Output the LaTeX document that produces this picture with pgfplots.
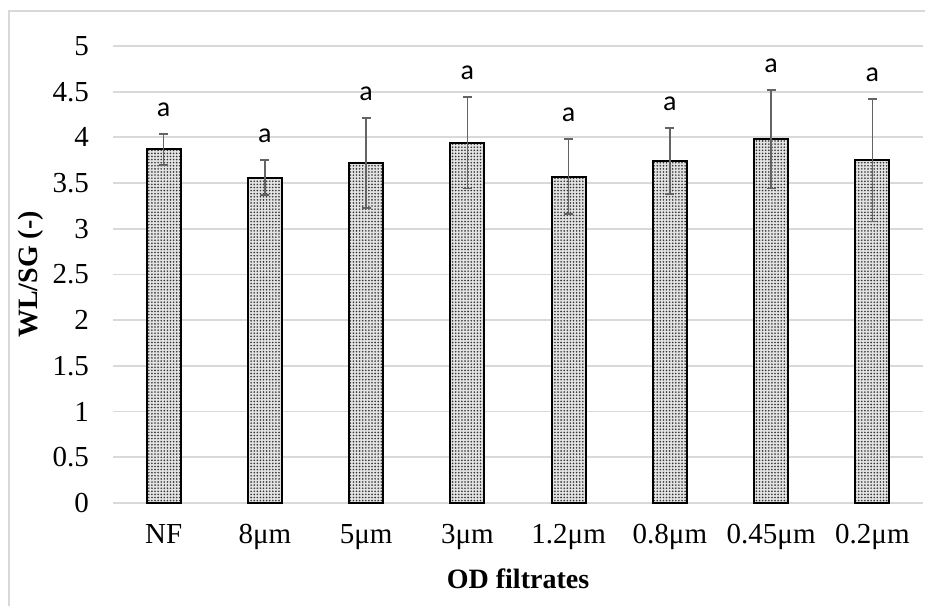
\documentclass[border=0pt]{standalone}
\usepackage{pgfplots}
\pgfplotsset{compat=1.18}
\usetikzlibrary{patterns}
\usepackage{fontspec}
\setmainfont{Liberation Serif}
\newfontfamily\calibri{Carlito}

% fine dot pattern like the Excel "5%" fill
\pgfdeclarepatternformonly{finedots}{\pgfqpoint{-0.5pt}{-0.5pt}}{\pgfqpoint{0.5pt}{0.5pt}}{\pgfqpoint{1.55pt}{1.55pt}}{%
  \pgfpathcircle{\pgfqpoint{0pt}{0pt}}{0.45pt}\pgfusepath{fill}}

\definecolor{gridgray}{RGB}{217,217,217}
\definecolor{errgray}{RGB}{100,100,100}

\begin{document}
\begin{tikzpicture}
  \begin{axis}[
      scale only axis,
      width=405pt, height=228.5pt,
      xmin=-0.5, xmax=7.5,
      ymin=0, ymax=5,
      xtick={0,1,2,3,4,5,6,7},
      xticklabels={NF, 8μm, 5μm, 3μm, 1.2μm, 0.8μm, 0.45μm, 0.2μm},
      ytick={0,0.5,1,1.5,2,2.5,3,3.5,4,4.5,5},
      ymajorgrids,
      grid style={gridgray, line width=0.9pt},
      axis line style={draw=none},
      major tick length=0pt,
      tick label style={font=\fontsize{14.5}{17}\selectfont},
      /pgf/number format/assume math mode=true,
      yticklabel style={xshift=-8.5pt},
      xticklabel style={yshift=-7pt},
      xlabel={\bfseries OD filtrates},
      ylabel={\bfseries WL/SG (-)},
      label style={font=\fontsize{14}{17}\selectfont},
      xlabel style={at={(axis description cs:0.5,-0.166)}, anchor=center},
      ylabel style={at={(axis description cs:-0.101,0.5)}, anchor=center},
      clip=false,
    ]
    \coordinate (sw) at (rel axis cs:0,0);
    \coordinate (ne) at (rel axis cs:1,1);

    \addplot[
      ybar, bar width=17pt,
      draw=black, line width=1pt,
      fill=gray!22,
      postaction={pattern=finedots, pattern color=black!80},
      error bars/.cd, y dir=both, y explicit,
      error bar style={errgray, line width=0.8pt},
      error mark options={errgray, rotate=90, mark size=2.2pt, line width=0.8pt},
    ] coordinates {
      (0, 3.87) +- (0, 0.17)
      (1, 3.56) +- (0, 0.19)
      (2, 3.72) +- (0, 0.49)
      (3, 3.94) +- (0, 0.50)
      (4, 3.57) +- (0, 0.41)
      (5, 3.74) +- (0, 0.36)
      (6, 3.98) +- (0, 0.54)
      (7, 3.75) +- (0, 0.67)
    };

    % significance letters above the error bars
    \addplot[
      draw=none, mark=none,
      nodes near coords={a},
      nodes near coords style={font=\calibri\fontsize{14}{16}\selectfont, text=black, anchor=center, yshift=12pt},
    ] coordinates {
      (0, 4.04) (1, 3.75) (2, 4.21) (3, 4.44)
      (4, 3.98) (5, 4.10) (6, 4.52) (7, 4.42)
    };
  \end{axis}
  \draw[gridgray, line width=0.8pt] ([xshift=-52pt]sw |- 0,-60pt) -- ([xshift=-52pt,yshift=17.5pt]sw |- ne) -- ([xshift=5pt,yshift=17.5pt]ne);
  \pgfresetboundingbox
  \path[use as bounding box] ([xshift=-56.5pt,yshift=-51.5pt]sw) rectangle ([xshift=1pt,yshift=23pt]ne);
\end{tikzpicture}
\end{document}
